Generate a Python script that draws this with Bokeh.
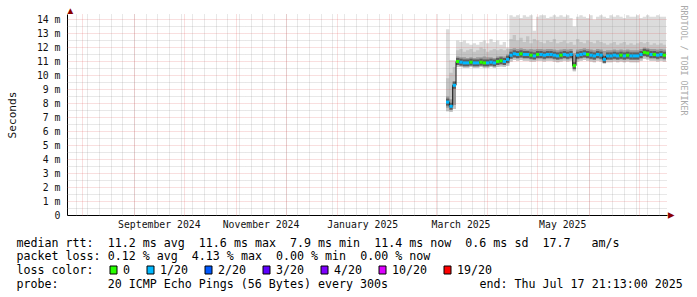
import datetime as dt
import re

import pandas as pd
from bokeh.core.properties import value
from bokeh.embed import file_html
from bokeh.layouts import column
from bokeh.models import (ColumnDataSource, DatetimeTickFormatter, FixedTicker,
                          LinearAxis, Range1d, Title)
from bokeh.plotting import figure
from bokeh.resources import INLINE

# ---------------------------------------------------------------- data
graph_end = dt.datetime(2025, 7, 17, 21, 13, 0)
graph_days = 360

# consolidated ping bins (2 days each), values in milliseconds
bin_first = "2025-03-07"
bin_days = 2

median_ms = [
    8.1, 7.8, 9.3,
    11.0, 10.95, 10.9, 10.9, 10.95, 10.9, 10.9, 10.95, 10.9, 10.9, 10.95, 10.9, 11.0, 11.05, 11.0, 11.15,
    11.45, 11.55, 11.5, 11.55, 11.5, 11.5, 11.45, 11.4, 11.5, 11.5,
    11.45, 11.5, 11.5, 11.45, 11.4, 11.45, 11.5, 11.45, 11.5, 10.7,
    11.45, 11.5, 11.55, 11.5, 11.45, 11.4, 11.5, 11.45, 11.15, 11.4,
    11.4, 11.45, 11.4, 11.45, 11.4, 11.45, 11.4, 11.4, 11.4, 11.5,
    11.65, 11.6, 11.5, 11.5, 11.45, 11.5, 11.45,
]
loss_of_20 = [
    1, 1, 1, 0, 1, 1, 1, 0, 1, 1,
    0, 0, 1, 1, 1, 0, 0, 1, 1, 1,
    1, 1, 0, 1, 1, 0, 1, 0, 1, 1,
    1, 1, 1, 1, 0, 1, 1, 1, 0, 1,
    1, 1, 0, 1, 1, 1, 1, 1, 1, 1,
    1, 1, 0, 1, 0, 1, 1, 1, 1, 0,
    0, 1, 0, 1, 1, 0,
]
smoke_min = [
    7.45, 7.4, 7.6,
    10.6, 10.6, 10.55, 10.55, 10.6, 10.55, 10.55, 10.6, 10.55, 10.55, 10.6, 10.55, 10.6, 10.65, 10.6, 10.7,
    11.0, 11.1, 11.05, 11.1, 11.05, 11.05, 11.0, 11.0, 11.05, 11.05,
    11.0, 11.05, 11.05, 11.0, 10.95, 11.0, 11.05, 11.0, 11.05, 10.3,
    11.0, 11.05, 11.1, 11.05, 11.0, 10.95, 11.05, 11.0, 10.85, 10.95,
    10.95, 11.0, 10.95, 11.0, 10.95, 11.0, 10.95, 10.95, 10.95, 11.05,
    11.2, 11.15, 11.05, 11.05, 11.0, 11.05, 11.0,
]
smoke_low = [
    7.7, 7.65, 7.9,
    10.75, 10.75, 10.7, 10.7, 10.75, 10.7, 10.7, 10.75, 10.7, 10.7, 10.75, 10.7, 10.75, 10.8, 10.75, 10.85,
    11.2, 11.25, 11.2, 11.25, 11.2, 11.2, 11.15, 11.15, 11.2, 11.2,
    11.15, 11.2, 11.2, 11.15, 11.1, 11.15, 11.2, 11.15, 11.2, 10.5,
    11.15, 11.2, 11.25, 11.2, 11.15, 11.1, 11.2, 11.15, 10.95, 11.1,
    11.1, 11.15, 11.1, 11.15, 11.1, 11.15, 11.1, 11.1, 11.1, 11.2,
    11.35, 11.3, 11.2, 11.2, 11.15, 11.2, 11.15,
]
smoke_high = [
    8.5, 8.3, 9.6,
    11.35, 11.3, 11.3, 11.25, 11.3, 11.25, 11.3, 11.3, 11.35, 11.3, 11.3, 11.25, 11.35, 11.4, 11.35, 11.5,
    11.9, 11.95, 11.9, 11.95, 11.9, 11.85, 11.9, 11.85, 11.9, 11.9,
    11.85, 11.9, 11.9, 11.85, 11.8, 11.85, 11.9, 11.85, 11.9, 11.6,
    11.85, 11.9, 11.95, 11.9, 11.85, 11.8, 11.9, 11.85, 11.75, 11.8,
    11.8, 11.85, 11.8, 11.85, 11.8, 11.85, 11.8, 11.8, 11.8, 11.9,
    12.0, 11.95, 11.9, 11.9, 11.85, 11.9, 11.85,
]
smoke_upper = [
    9.8, 10.2, 10.6,
    11.8, 11.9, 11.7, 11.8, 11.9, 11.7, 11.8, 12.0, 11.9, 11.7, 11.8, 11.9, 11.8, 11.9, 11.8, 11.9,
    12.6, 12.9, 12.5, 12.7, 12.4, 12.8, 12.3, 12.6, 12.5, 12.4,
    12.3, 12.5, 12.4, 12.6, 12.3, 12.4, 12.5, 12.3, 12.4, 12.2,
    12.6, 12.4, 12.3, 12.5, 12.4, 12.3, 12.5, 12.4, 12.3, 12.2,
    12.3, 12.4, 12.2, 12.3, 12.4, 12.2, 12.3, 12.2, 12.3, 12.4,
    12.3, 12.4, 12.2, 12.3, 12.2, 12.3, 12.2,
]
smoke_max = [
    13.3, 11.1, 11.1,
    12.5, 12.4, 12.5, 12.3, 12.2, 12.3, 12.2, 12.4, 12.5, 12.3, 12.6, 12.4, 12.5, 12.2, 12.4, 12.0,
    14.3, 14.2, 14.3, 14.1, 14.3, 14.2, 14.3, 13.2, 14.2, 14.3,
    14.3, 14.1, 14.2, 14.3, 14.2, 14.3, 14.2, 14.3, 14.1, 13.5,
    14.2, 14.3, 14.2, 14.1, 14.3, 14.0, 14.2, 14.3, 14.2, 14.1,
    14.3, 14.2, 14.3, 14.2, 14.1, 14.3, 14.2, 14.2, 14.3, 14.1,
    14.2, 14.3, 14.2, 14.2, 14.3, 14.2, 14.2,
]

loss_levels = [0, 1, 2, 3, 4, 10, 19]
loss_labels = ["0", "1/20", "2/20", "3/20", "4/20", "10/20", "19/20"]
loss_colors = ["#26ff00", "#00b8ff", "#0059ff", "#5e00ff", "#7e00ff", "#dd00ff", "#ff0000"]

rtt_names = ["avg", "max", "min", "now", "sd"]
rtt_values = [11.2, 11.6, 7.9, 11.4, 0.6]
am_per_s = 17.7
loss_names = ["avg", "max", "min", "now"]
loss_pct = [0.12, 4.13, 0.00, 0.00]
probe_pings, probe_bytes, probe_step = 20, 56, 300

y_ticks = list(range(15))
y_tick_labels = ["0"] + [f"{v} m" for v in range(1, 15)]
x_label_months = ["2024-09", "2024-11", "2025-01", "2025-03", "2025-05"]
row_names = ["median rtt:", "packet loss:", "loss color:", "probe:"]


def to_ms(t):
    return pd.Timestamp(t).value / 1e6


graph_start = graph_end - dt.timedelta(days=graph_days)
x0, x1 = to_ms(graph_start), to_ms(graph_end)
y_top = 201 / 14.0

# ---------------------------------------------------------------- sources
starts = pd.date_range(bin_first, periods=len(median_ms), freq=f"{bin_days}D")
step = pd.Timedelta(days=bin_days)
edges = [to_ms(t) for t in starts] + [to_ms(starts[-1] + step)]


def ext(a):
    return list(a) + [a[-1]]


smoke = ColumnDataSource(dict(
    x=edges, mn=ext(smoke_min), lo=ext(smoke_low), hi=ext(smoke_high),
    up=ext(smoke_upper), mx=ext(smoke_max), med=ext(median_ms)))

color_of = dict(zip(loss_levels, loss_colors))
bins = ColumnDataSource(dict(
    x0=[to_ms(t) for t in starts], x1=[to_ms(t + step) for t in starts],
    med=median_ms, color=[color_of[v] for v in loss_of_20]))

# ---------------------------------------------------------------- graph
FONT = "DejaVu Sans Mono"
TXT = "11.65px"
ARROW = "#8b0000"
p = figure(width=697, height=235, x_axis_type="datetime",
           x_range=Range1d(x0, x1), y_range=Range1d(0, y_top),
           output_backend="svg", toolbar_location=None,
           min_border_left=67, min_border_right=30,
           min_border_top=14, min_border_bottom=20,
           background_fill_color="white", border_fill_color="white",
           outline_line_color=None)

p.varea_step(x="x", y1="mn", y2="mx", step_mode="after", fill_color="#dcdcdc", source=smoke)
p.varea_step(x="x", y1="mn", y2="up", step_mode="after", fill_color="#c4c4c4", source=smoke)
p.varea_step(x="x", y1="lo", y2="hi", step_mode="after", fill_color="#9a9a9a", source=smoke)

core = p.segment(x0="x0", y0="med", x1="x1", y1="med", line_width=7,
                 line_color="#5e5e5e", source=bins)
mline = p.step(x="x", y="med", mode="after", line_color="#111111",
               line_width=1, source=smoke)
lossl = p.segment(x0="x0", y0="med", x1="x1", y1="med", line_width=3,
                  line_color="color", source=bins)
for r in (core, mline, lossl):
    r.level = "annotation"

# grids: weekly / monthly and half / whole milliseconds
month_starts = [to_ms(t) for t in pd.date_range("2024-08-01", "2025-07-01", freq="MS")]
sundays = [to_ms(t) for t in pd.date_range("2024-07-28", "2025-07-13", freq="7D")]
for g in p.xgrid:
    g.ticker = FixedTicker(ticks=month_starts, minor_ticks=sundays)
for g in p.ygrid:
    g.ticker = FixedTicker(ticks=y_ticks, minor_ticks=[v + 0.5 for v in y_ticks[:-1]])
for g in list(p.xgrid) + list(p.ygrid):
    g.level = "guide"
    g.grid_line_color = "#de5151"
    g.grid_line_alpha = 0.36
    g.grid_line_dash = "1 1"
    g.minor_grid_line_color = "#8f8f8f"
    g.minor_grid_line_alpha = 0.42
    g.minor_grid_line_dash = "1 1"

# axes
label_ticks = [to_ms(pd.Timestamp(m + "-01") + pd.Timedelta(days=15)) for m in x_label_months]
p.xaxis.ticker = FixedTicker(ticks=label_ticks)
p.xaxis.formatter = DatetimeTickFormatter(days="%B %Y", months="%B %Y", years="%B %Y")
p.yaxis.ticker = FixedTicker(ticks=y_ticks)
p.yaxis.major_label_overrides = dict(zip(y_ticks, y_tick_labels))
for ax in list(p.xaxis) + list(p.yaxis):
    ax.axis_line_color = "#000000"
    ax.major_tick_out = 0
    ax.major_tick_in = 0
    ax.minor_tick_out = 0
    ax.minor_tick_in = 0
    ax.major_label_text_font = FONT
    ax.major_label_text_font_size = "9.8px"
    ax.major_label_text_color = "#111111"
p.xaxis.major_label_standoff = 3
p.yaxis.major_label_standoff = 7
p.yaxis.axis_label = "Seconds"
p.yaxis.axis_label_text_font = FONT
p.yaxis.axis_label_text_font_size = "11.1px"
p.yaxis.axis_label_text_font_style = "normal"
p.yaxis.axis_label_text_color = "#111111"
p.yaxis.axis_label_standoff = 15

# axis arrow heads: the plot's own title holds the one on top of the value axis,
# a rotated triangle in the right margin points along the time axis
p.title.text = "\u25b2"
p.title.align = "left"
p.title.offset = 0
p.title.standoff = -1
p.title.text_font = "DejaVu Sans"
p.title.text_font_size = "7.5px"
p.title.text_font_style = "normal"
p.title.text_color = ARROW

p.add_layout(Title(text="\u25b2", align="right", offset=-3.3, standoff=-2,
                   text_font="DejaVu Sans", text_font_size="8.5px",
                   text_font_style="normal", text_color=ARROW), "right")
p.add_layout(Title(text="RRDTOOL / TOBI OETIKER", align="left", text_font=FONT,
                   text_font_size="8.3px", text_font_style="normal",
                   text_color="#aaaaaa", offset=-9, standoff=2.7), "right")

# ---------------------------------------------------------------- legend block
CW = 7.013          # advance of one monospace character
LEFT = 16.0
BODY_COL = 13
row_y = [242, 255, 269, 283]

lg = figure(width=697, height=62, x_range=Range1d(67, 667), y_range=Range1d(297, 235),
            output_backend="svg", toolbar_location=None,
            min_border_left=0, min_border_right=0, min_border_top=0, min_border_bottom=0,
            x_axis_location=None, y_axis_location="left", outline_line_color=None,
            background_fill_color="white", border_fill_color="white")
lg.xgrid.visible = False
lg.ygrid.visible = False

# row headings, left of the text columns
name_w = max(len(n) for n in row_names)
lg.yaxis.ticker = FixedTicker(ticks=row_y)
lg.yaxis.major_label_overrides = {y: n + "\u00a0" * (name_w - len(n)) for y, n in zip(row_y, row_names)}
lg.yaxis.major_label_standoff = int(round(67 - (LEFT + name_w * CW)))

# timestamp at the end of the probe row
end_axis = LinearAxis(ticker=FixedTicker(ticks=[row_y[3]]),
                      major_label_overrides={row_y[3]: graph_end.strftime("end: %a %b %d %H:%M:%S %Y")})
lg.add_layout(end_axis, "right")
end_axis.major_label_standoff = int(round(LEFT + 66 * CW - 667))

for ax in list(lg.yaxis):
    ax.axis_line_color = None
    ax.major_tick_line_color = None
    ax.minor_tick_line_color = None
    ax.major_tick_out = 0
    ax.major_tick_in = 0
    ax.major_label_text_font = FONT
    ax.major_label_text_font_size = TXT
    ax.major_label_text_color = "#000000"

body1 = "  ".join(f"{v:.1f} ms {n}" for v, n in zip(rtt_values, rtt_names)) + f"  {am_per_s:.1f}   am/s"
body2 = "  ".join(f"{v:.2f} % {n}" for v, n in zip(loss_pct, loss_names))
body4 = f"{probe_pings} ICMP Echo Pings ({probe_bytes} Bytes) every {probe_step}s"

tx, ty, tt = [], [], []
for s, y in ((body1, row_y[0]), (body2, row_y[1]), (body4, row_y[3])):
    for m in re.finditer(r"\S+(?: \S+)*", s):
        tx.append(LEFT + (BODY_COL + m.start()) * CW)
        ty.append(y)
        tt.append(m.group())

box_l, box_x = [], LEFT + 13.25 * CW
for lab in loss_labels:
    box_l.append(round(box_x) + 0.5)
    tx.append(box_l[-1] + 13.0)
    ty.append(row_y[2])
    tt.append(lab)
    box_x = box_l[-1] + 13.0 + (len(lab) + 2) * CW + 2.4

lg.text(x=tx, y=ty, text=tt, text_font=value(FONT), text_font_size=TXT,
        text_baseline="middle", text_align="left", text_color="#000000")
lg.quad(left=box_l, right=[b + 7 for b in box_l], top=[265.5] * len(box_l),
        bottom=[273.5] * len(box_l), fill_color=loss_colors, line_color="#000000",
        line_width=1)

open("out.html", "w").write(file_html(column(p, lg), INLINE))
